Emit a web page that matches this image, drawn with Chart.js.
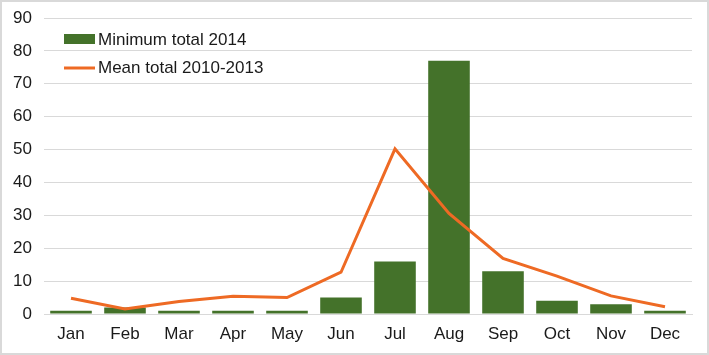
<!DOCTYPE html>
<html>
<head>
<meta charset="utf-8">
<script src="https://cdn.jsdelivr.net/npm/chart.js@4"></script>
<style>
  html,body{margin:0;padding:0;background:#fff;}
  #wrap{width:709px;height:355px;box-sizing:border-box;border:2px solid #d9d9d9;position:relative;}
  canvas{display:block;}
</style>
</head>
<body>
<div id="wrap"><canvas id="c" width="705" height="351"></canvas></div>
<script>
const months = ['Jan','Feb','Mar','Apr','May','Jun','Jul','Aug','Sep','Oct','Nov','Dec'];
const minTotal2014 = [1,2,1,1,1,5,16,77,13,4,3,1];
const meanTotal = [4.8,1.5,3.8,5.4,5,12.7,50.2,30.6,16.9,11.5,5.5,2.2];
const yTicks = [0,10,20,30,40,50,60,70,80,90];

const green = '#44722a';
const orange = '#ee6a24';
const font = {family:'"Liberation Sans", Arial, sans-serif', size:17};

// Legend drawn inside the plot, top-left
const insideLegend = {
  id:'insideLegend',
  afterDraw(chart){
    const ctx = chart.ctx;
    const bars = chart.data.datasets.find(d=>d.type==='bar');
    const line = chart.data.datasets.find(d=>d.type==='line');
    ctx.save();
    ctx.font = '17px "Liberation Sans", Arial, sans-serif';
    ctx.textBaseline = 'middle';
    ctx.fillStyle = green;
    ctx.fillRect(62, 32, 31, 10);
    ctx.fillStyle = '#1a1a1a';
    ctx.fillText(bars.label, 96, 38);
    ctx.strokeStyle = orange;
    ctx.lineWidth = 3;
    ctx.beginPath();
    ctx.moveTo(62, 66); ctx.lineTo(93, 66);
    ctx.stroke();
    ctx.fillText(line.label, 96, 66);
    ctx.restore();
  }
};

new Chart(document.getElementById('c'), {
  data:{
    labels: months,
    datasets:[
      {type:'line', label:'Mean total 2010-2013', data:meanTotal, borderColor:orange, borderWidth:3,
       pointRadius:0, tension:0, order:0},
      {type:'bar', label:'Minimum total 2014', data:minTotal2014, backgroundColor:green,
       barPercentage:0.77, categoryPercentage:1, order:1}
    ]
  },
  options:{
    responsive:false,
    animation:false,
    layout:{padding:{top:16, right:15, bottom:0, left:0}},
    plugins:{legend:{display:false}, tooltip:{enabled:false}},
    scales:{
      x:{
        grid:{display:false, drawTicks:false},
        border:{color:'#d9d9d9', width:1},
        ticks:{font:font, color:'#1a1a1a', padding:10},
        afterFit(s){ s.height = 39; }
      },
      y:{
        min:0, max:90,
        afterBuildTicks(s){ s.ticks = yTicks.map(v=>({value:v})); },
        grid:{color:'#d9d9d9', lineWidth:1, drawTicks:false},
        border:{display:false},
        ticks:{font:font, color:'#1a1a1a', padding:12},
        afterFit(s){ s.width = 42; s.paddingTop = 0; s.paddingBottom = 0; }
      }
    }
  },
  plugins:[insideLegend]
});
</script>
</body>
</html>
